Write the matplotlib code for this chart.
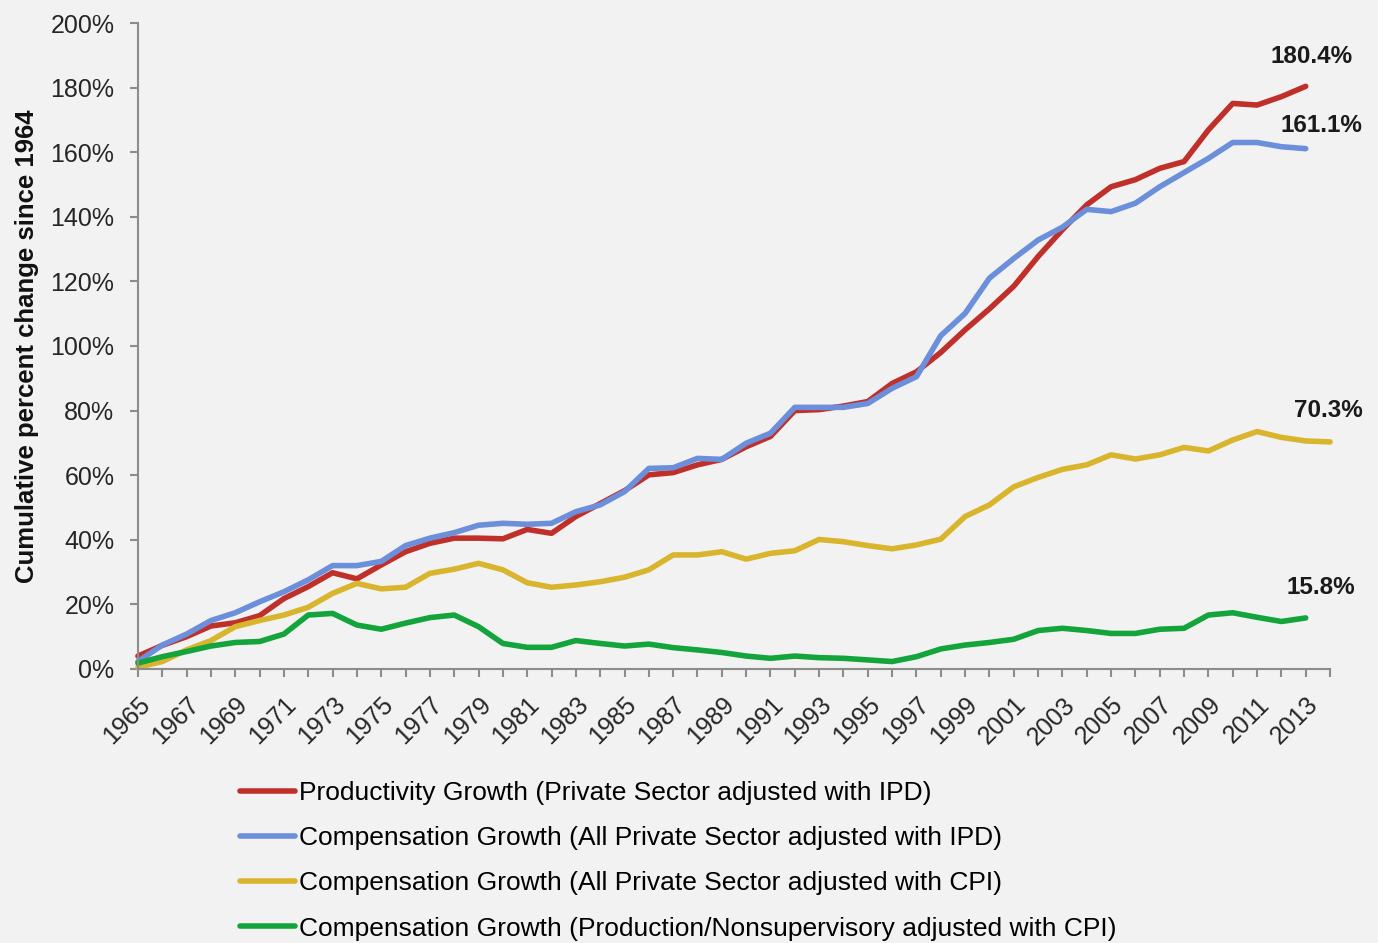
import numpy as np
import matplotlib
matplotlib.use('Agg')
import matplotlib.pyplot as plt
from matplotlib.ticker import FuncFormatter

plt.rcParams['font.family'] = ['Liberation Sans', 'DejaVu Sans']

# data (cumulative % change since 1964)
years = list(range(1965, 2015))

productivity_ipd = [4.0, 7.3, 10.0, 13.3, 14.3, 16.5, 21.8, 25.5, 29.8, 27.9,
                    32.2, 36.3, 38.9, 40.5, 40.5, 40.3, 43.2, 42.0, 47.2, 51.2,
                    55.2, 60.1, 60.8, 63.2, 64.9, 68.8, 72.0, 80.0, 80.3, 81.4,
                    82.8, 88.4, 92.0, 98.0, 105.0, 111.5, 118.5, 127.7, 136.0, 143.7,
                    149.3, 151.5, 155.0, 157.1, 166.9, 175.1, 174.6, 177.2, 180.4]

comp_all_ipd = [2.3, 7.4, 10.8, 15.0, 17.4, 20.8, 23.9, 27.6, 32.0, 32.0,
                33.3, 38.2, 40.5, 42.2, 44.5, 45.1, 44.8, 45.1, 48.7, 50.8,
                54.9, 62.1, 62.3, 65.2, 64.9, 69.9, 73.0, 81.0, 81.0, 81.0,
                82.2, 86.9, 90.5, 103.2, 110.1, 121.0, 127.1, 132.8, 136.8, 142.3,
                141.6, 144.2, 149.3, 153.7, 158.1, 163.0, 163.0, 161.7, 161.1]

comp_all_cpi = [0.5, 2.3, 5.9, 8.8, 13.1, 15.0, 16.7, 19.1, 23.4, 26.5,
                24.8, 25.3, 29.6, 30.9, 32.7, 30.7, 26.7, 25.3, 26.0, 27.0,
                28.4, 30.7, 35.3, 35.3, 36.3, 34.0, 35.8, 36.6, 40.1, 39.4,
                38.2, 37.2, 38.4, 40.2, 47.2, 50.8, 56.4, 59.3, 61.8, 63.2,
                66.3, 65.0, 66.3, 68.6, 67.5, 70.9, 73.5, 71.7, 70.6, 70.3]

comp_prod_cpi = [1.8, 3.8, 5.4, 7.1, 8.2, 8.5, 10.8, 16.7, 17.2, 13.6,
                 12.3, 14.2, 15.9, 16.7, 13.1, 7.9, 6.7, 6.7, 8.8, 7.9,
                 7.1, 7.7, 6.6, 5.9, 5.1, 4.0, 3.3, 4.0, 3.5, 3.3,
                 2.8, 2.3, 3.8, 6.2, 7.4, 8.2, 9.2, 11.9, 12.6, 11.9,
                 11.0, 11.0, 12.3, 12.6, 16.7, 17.4, 16.0, 14.7, 15.8]

labels = ['Productivity Growth (Private Sector adjusted with IPD)',
          'Compensation Growth (All Private Sector adjusted with IPD)',
          'Compensation Growth (All Private Sector adjusted with CPI)',
          'Compensation Growth (Production/Nonsupervisory adjusted with CPI)']
end_labels = ['180.4%', '161.1%', '70.3%', '15.8%']

series = [productivity_ipd, comp_all_ipd, comp_all_cpi, comp_prod_cpi]
colors = ['#c0302a', '#6b8fdb', '#d9b52e', '#13a43b']
label_offsets = [(6, 30), (16, 23), (-2, 31), (15, 30)]

bg = '#f2f2f2'
axis_gray = '#8c8c8c'

fig = plt.figure(figsize=(13.78, 9.43), dpi=100, facecolor=bg)
ax = fig.add_axes([0.1001, 0.2906, 0.8651, 0.685])
ax.set_facecolor(bg)

for vals, c, lab, txt, off in zip(series, colors, labels, end_labels, label_offsets):
    x = years[:len(vals)]
    ax.plot(x, vals, '-', color=c, linewidth=4, label=lab, clip_on=False,
            solid_capstyle='round', solid_joinstyle='round')
    ax.annotate(txt, (x[-1], vals[-1]), xytext=off, textcoords='offset pixels',
                ha='center', va='center', fontsize=17.5, fontweight='bold',
                color='#1a1a1a')

ax.set_xlim(1965, 2014)
ax.set_ylim(0, 200)
ax.set_yticks(np.arange(0, 201, 20))
ax.yaxis.set_major_formatter(FuncFormatter(lambda v, p: f'{v:.0f}%'))
ax.set_xticks(years)
ax.set_xticklabels([str(y) if (y - 1965) % 2 == 0 else '' for y in years],
                   rotation=45, ha='right', va='top', rotation_mode='anchor')

for s in ['top', 'right']:
    ax.spines[s].set_visible(False)
for s in ['left', 'bottom']:
    ax.spines[s].set_color(axis_gray)
    ax.spines[s].set_linewidth(1.5)
ax.tick_params(axis='both', colors=axis_gray, width=1.5, length=6,
               labelsize=18, labelcolor='#262626')
ax.tick_params(axis='y', pad=11)
ax.tick_params(axis='x', pad=11)

ax.set_ylabel('Cumulative percent change since 1964', fontsize=18.5,
              fontweight='bold', color='#111111', labelpad=8)

fig.legend(loc='upper left', bbox_to_anchor=(0.1742, 0.1715), frameon=False,
           fontsize=19, handlelength=2.1, handletextpad=0.15,
           labelspacing=0.8, borderpad=0, borderaxespad=0)

plt.savefig('out.png', dpi=100, facecolor=bg)
